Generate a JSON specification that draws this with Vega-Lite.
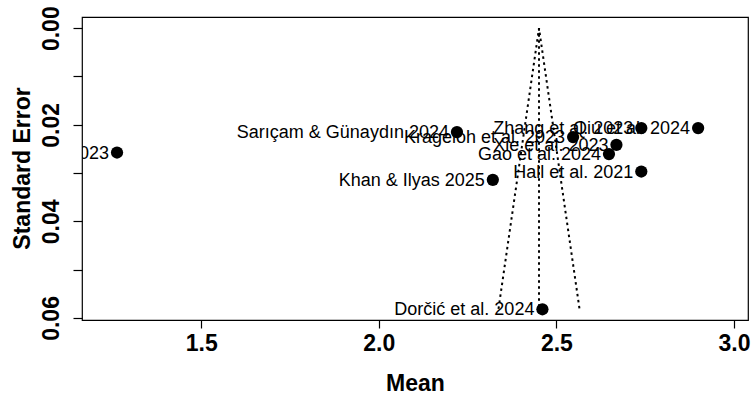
{
  "$schema": "https://vega.github.io/schema/vega-lite/v6.json",
  "width": 666,
  "height": 303,
  "autosize": "none",
  "padding": {"left": 82, "top": 17, "right": 8, "bottom": 77},
  "background": "white",
  "config": {
    "view": {"stroke": "black", "strokeWidth": 1.2},
    "font": "Liberation Sans"
  },
  "datasets": {
    "studies": [
      {"study": "Lee et al. 2023", "mean": 1.263, "se": 0.02574},
      {"study": "Sarıçam & Günaydın 2024", "mean": 2.220, "se": 0.02151},
      {"study": "Krageloh et al. 2023", "mean": 2.547, "se": 0.02255},
      {"study": "Zhang et al. 2023", "mean": 2.739, "se": 0.02068},
      {"study": "Qiu et al. 2024", "mean": 2.899, "se": 0.02068},
      {"study": "Xie et al. 2023", "mean": 2.669, "se": 0.02415},
      {"study": "Gao et al. 2024", "mean": 2.648, "se": 0.02607},
      {"study": "Hall et al. 2021", "mean": 2.739, "se": 0.02968},
      {"study": "Khan & Ilyas 2025", "mean": 2.321, "se": 0.0314},
      {"study": "Dorčić et al. 2024", "mean": 2.4606, "se": 0.0582}
    ],
    "funnel": [
      {"ord": 1, "mean": 2.337, "se": 0.0581},
      {"ord": 2, "mean": 2.451, "se": 0.0},
      {"ord": 3, "mean": 2.565, "se": 0.0581}
    ],
    "center": [
      {"mean": 2.451, "se": 0.0, "se2": 0.0581}
    ]
  },
  "layer": [
    {
      "data": {"name": "funnel"},
      "mark": {"type": "line", "color": "black", "strokeWidth": 2, "strokeDash": [2.5, 3.5]},
      "encoding": {
        "x": {"field": "mean", "type": "quantitative", "scale": {"domain": [1.1644, 3.0394], "nice": false, "zero": false},
          "axis": {"title": "Mean", "values": [1.5, 2.0, 2.5, 3.0], "format": ".1f", "grid": false, "domain": false,
            "tickColor": "black", "tickSize": 8, "tickWidth": 1.2,
            "labelFont": "Liberation Sans", "labelFontWeight": "bold", "labelFontSize": 23, "labelColor": "black", "labelPadding": 4,
            "titleFont": "Liberation Sans", "titleFontWeight": "bold", "titleFontSize": 23, "titleColor": "black",
            "titleY": 63, "titleBaseline": "middle"}},
        "y": {"field": "se", "type": "quantitative", "scale": {"domain": [-0.00232, 0.06042], "reverse": true, "nice": false, "zero": false},
          "axis": {"title": "Standard Error", "values": [0, 0.01, 0.02, 0.03, 0.04, 0.05, 0.06], "grid": false, "domain": false,
            "labelExpr": "round(datum.value*100) % 2 == 0 ? format(datum.value, '.2f') : ''",
            "tickColor": "black", "tickSize": 9, "tickWidth": 1.2,
            "labelFont": "Liberation Sans", "labelFontWeight": "bold", "labelFontSize": 23, "labelColor": "black",
            "labelAngle": -90, "labelAlign": "center", "labelBaseline": "bottom", "labelPadding": 10,
            "titleFont": "Liberation Sans", "titleFontWeight": "bold", "titleFontSize": 23, "titleColor": "black",
            "titleX": -60, "titleY": 151, "titleAngle": -90, "titleAlign": "center", "titleBaseline": "middle"}},
        "order": {"field": "ord", "type": "quantitative"}
      }
    },
    {
      "data": {"name": "center"},
      "mark": {"type": "rule", "color": "black", "strokeWidth": 2, "strokeDash": [2.5, 3.5]},
      "encoding": {
        "x": {"field": "mean", "type": "quantitative"},
        "y": {"field": "se", "type": "quantitative"},
        "y2": {"field": "se2"}
      }
    },
    {
      "data": {"name": "studies"},
      "mark": {"type": "point", "filled": true, "color": "black", "opacity": 1, "size": 150},
      "encoding": {
        "x": {"field": "mean", "type": "quantitative"},
        "y": {"field": "se", "type": "quantitative"}
      }
    },
    {
      "data": {"name": "studies"},
      "mark": {"type": "text", "align": "right", "baseline": "middle", "dx": -8, "dy": 1, "fontSize": 18, "font": "Liberation Sans", "color": "black", "clip": true},
      "encoding": {
        "x": {"field": "mean", "type": "quantitative"},
        "y": {"field": "se", "type": "quantitative"},
        "text": {"field": "study"}
      }
    }
  ]
}
